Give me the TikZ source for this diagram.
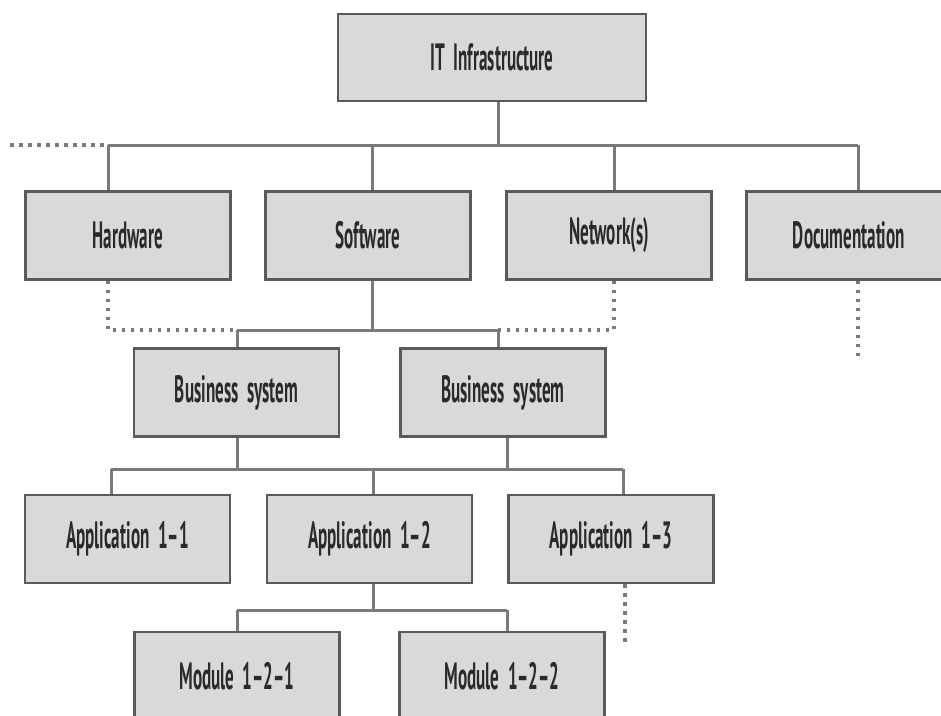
\documentclass[tikz,border=0pt]{standalone}
\usepackage{fontspec}
\setmainfont{PT Sans}[FakeStretch=0.45]
\definecolor{boxfill}{HTML}{D9D9D9}
\definecolor{boxline}{HTML}{5A5A5A}
\definecolor{wire}{HTML}{7A7A7A}
\definecolor{txt}{HTML}{2A2A2A}
\begin{document}
\begin{tikzpicture}[x=1pt,y=-1pt,
  box/.style={draw=boxline, fill=boxfill, line width=2.2pt,
    minimum width=205pt, minimum height=88pt, inner sep=0pt,
    font=\fontsize{38}{40}\selectfont\bfseries, text=txt},
  link/.style={draw=wire, line width=3pt},
  dots/.style={draw=wire, line width=3.5pt, dash pattern=on 3.5pt off 5.5pt}]
\useasboundingbox (0,0) rectangle (941,715);
\clip (0,0) rectangle (941,715);

% boxes
\node[box, minimum width=308pt, minimum height=87pt] (it) at (492,57.5) {IT\ \ Infrastructure};
\node[box] (hw)  at (128,235.5) {Hardware};
\node[box] (sw)  at (368,235.5) {Software};
\node[box] (net) at (609,235.5) {Network(s)};
\node[box] (doc) at (849,235.5) {Documentation};
\node[box] (bs1) at (236.5,392.5) {Business\ \ system};
\node[box] (bs2) at (503,392.5) {Business\ \ system};
\node[box] (a11) at (127.5,539) {Application\ \ 1–1};
\node[box] (a12) at (369.5,539) {Application\ \ 1–2};
\node[box] (a13) at (611,539) {Application\ \ 1–3};
\node[box] (m121) at (237,676) {Module\ \ 1–2–1};
\node[box] (m122) at (502,676) {Module\ \ 1–2–2};

% junction points on the buses
\coordinate (t0) at (498,145);
\coordinate (t1) at (108,145);
\coordinate (t2) at (372,145);
\coordinate (t3) at (614,145);
\coordinate (t4) at (858,145);
\coordinate (tl) at (10,145);

\coordinate (s0) at (372,330);
\coordinate (s1) at (237,330);
\coordinate (s2) at (498,330);
\coordinate (sh) at (108,330);
\coordinate (sn) at (614,330);
\coordinate (dd) at (858,360);

\coordinate (u1) at (237,469);
\coordinate (u2) at (507,469);
\coordinate (v1) at (111,469);
\coordinate (v2) at (373,469);
\coordinate (v3) at (623,469);
\coordinate (ad) at (625,643);

\coordinate (w0) at (373,610);
\coordinate (w1) at (237,610);
\coordinate (w2) at (507,610);

% level 1
\draw[link] (it.south -| t0) -- (t0);
\draw[link] (t1) -- (t4);
\draw[dots] (tl) -- (t1);
\foreach \j/\n in {t1/hw, t2/sw, t3/net, t4/doc}
  \draw[link] (\j) -- (\j |- \n.north);

% level 2 (software)
\draw[link] (sw.south -| s0) -- (s0);
\draw[link] (s1) -- (s2);
\draw[link] (s1) -- (s1 |- bs1.north);
\draw[link] (s2) -- (s2 |- bs2.north);
\draw[dots] (hw.south -| sh) -- (sh) -- (s1);
\draw[dots] (net.south -| sn) -- (sn) -- (s2);
\draw[dots] (doc.south -| dd) -- (dd);

% level 3 (applications)
\draw[link] (bs1.south -| u1) -- (u1);
\draw[link] (bs2.south -| u2) -- (u2);
\draw[link] (v1) -- (v3);
\foreach \j/\n in {v1/a11, v2/a12, v3/a13}
  \draw[link] (\j) -- (\j |- \n.north);
\draw[dots] (a13.south -| ad) -- (ad);

% level 4 (modules)
\draw[link] (a12.south -| w0) -- (w0);
\draw[link] (w1) -- (w2);
\draw[link] (w1) -- (w1 |- m121.north);
\draw[link] (w2) -- (w2 |- m122.north);
\end{tikzpicture}
\end{document}
